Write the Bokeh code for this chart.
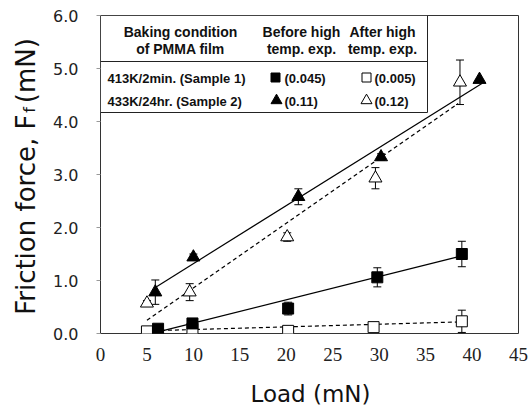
from bokeh.plotting import figure
from bokeh.models import (Label, Whisker, TeeHead, ColumnDataSource, FixedTicker,
                          PrintfTickFormatter, Range1d)
from bokeh.layouts import row, column
from bokeh.core.properties import value
from bokeh.embed import file_html
from bokeh.resources import INLINE
import math

# ---- data ----
s1_before_x = [6.2, 9.9, 20.2, 29.8, 38.9]
s1_before_y = [0.09, 0.19, 0.47, 1.06, 1.50]
s1_before_err = [0.03, 0.05, 0.12, 0.18, 0.24]

s1_after_x = [5.0, 9.9, 20.2, 29.4, 38.9]
s1_after_y = [0.04, 0.09, 0.05, 0.12, 0.23]
s1_after_err = [0.03, 0.08, 0.04, 0.05, 0.21]

s2_before_x = [5.9, 10.0, 21.3, 30.2, 40.8]
s2_before_y = [0.78, 1.44, 2.58, 3.33, 4.79]
s2_before_err = [0.23, 0.06, 0.15, 0.06, 0.0]

s2_after_x = [5.0, 9.6, 20.1, 29.6, 38.7]
s2_after_y = [0.57, 0.78, 1.82, 2.93, 4.74]
s2_after_err = [0.05, 0.16, 0.08, 0.20, 0.42]

# fitted lines (end points)
fit_s1_before_x = [6.2, 39.0]
fit_s1_before_y = [0.03, 1.47]
fit_s1_after_x = [5.0, 38.9]
fit_s1_after_y = [0.05, 0.22]
fit_s2_before_x = [5.9, 41.1]
fit_s2_before_y = [0.87, 4.72]
fit_s2_after_x = [5.0, 38.5]
fit_s2_after_y = [0.25, 4.34]

x_ticks = [0, 5, 10, 15, 20, 25, 30, 35, 40, 45]
y_ticks = [0, 1, 2, 3, 4, 5, 6]

legend_rows = ["413K/2min. (Sample 1)", "433K/24hr. (Sample 2)"]
legend_before = ["(0.045)", "(0.11)"]
legend_after = ["(0.005)", "(0.12)"]

# ---- layout constants ----
TOTAL_W, TOTAL_H = 528, 405
LAB_W = 40                      # narrow panel holding the rotated y title
XL_H = 39                       # strip below holding the x title
TOP_H = TOTAL_H - XL_H
FRAME_L, FRAME_T, FRAME_W, FRAME_H = 100, 15, 418, 318

# ---- y-title panel ----
ylab = figure(width=LAB_W, height=TOP_H, x_range=Range1d(0, LAB_W),
              y_range=Range1d(0, TOP_H), x_axis_type=None, y_axis_type=None,
              output_backend="svg", toolbar_location=None,
              min_border=0, min_border_left=0, min_border_right=0,
              min_border_top=0, min_border_bottom=0)
ylab.outline_line_color = None
ylab.grid.visible = False

BASE_X = 25              # baseline of rotated title (px from panel left)
F_END = TOP_H - 114      # where "Friction force, F" ends (px from panel bottom)
ylab.text(x=[BASE_X], y=[F_END], text=["Friction force, F"], angle=math.pi / 2,
          text_align="right", text_baseline="alphabetic",
          text_font=value("DejaVu Sans"), text_font_size="26px", text_color="#111111")
ylab.text(x=[BASE_X + 4], y=[F_END + 2], text=["f"], angle=math.pi / 2,
          text_align="left", text_baseline="alphabetic",
          text_font=value("DejaVu Sans"), text_font_size="16px", text_color="#111111")
ylab.text(x=[BASE_X], y=[F_END + 13], text=["(mN)"], angle=math.pi / 2,
          text_align="left", text_baseline="alphabetic",
          text_font=value("DejaVu Sans"), text_font_size="26px", text_color="#111111")

# ---- x-title strip ----
xlab = figure(width=TOTAL_W, height=XL_H, x_range=Range1d(0, TOTAL_W),
              y_range=Range1d(0, XL_H), x_axis_type=None, y_axis_type=None,
              output_backend="svg", toolbar_location=None,
              min_border=0, min_border_left=0, min_border_right=0,
              min_border_top=0, min_border_bottom=0)
xlab.outline_line_color = None
xlab.grid.visible = False
xlab.text(x=[310], y=[12], text=["Load (mN)"], text_align="center",
          text_baseline="alphabetic", text_font=value("DejaVu Sans"),
          text_font_size="23px", text_color="#111111")

# ---- main figure ----
p = figure(width=TOTAL_W - LAB_W, height=TOP_H, x_range=Range1d(0, 45),
           y_range=Range1d(0, 6), output_backend="svg", toolbar_location=None,
           min_border_left=FRAME_L - LAB_W,
           min_border_right=TOTAL_W - FRAME_L - FRAME_W, min_border_top=FRAME_T,
           min_border_bottom=TOP_H - FRAME_T - FRAME_H)
p.grid.visible = False
p.outline_line_color = "#333333"
p.outline_line_width = 1

p.xaxis.ticker = FixedTicker(ticks=x_ticks)
p.yaxis.ticker = FixedTicker(ticks=y_ticks)
p.yaxis.formatter = PrintfTickFormatter(format="%.1f")
for ax in (p.xaxis[0], p.yaxis[0]):
    ax.axis_line_color = None
    ax.minor_tick_line_color = None
    ax.major_label_text_color = "#222222"
p.xaxis.major_label_text_font = "Liberation Sans Narrow"
p.xaxis.major_label_text_font_size = "19px"
p.yaxis.major_label_text_font = "DejaVu Sans"
p.yaxis.major_label_text_font_size = "16px"
p.xaxis.major_tick_line_color = None
p.xaxis.major_label_standoff = 8
p.yaxis.major_tick_line_color = "#999999"
p.yaxis.major_tick_in = 0
p.yaxis.major_tick_out = 4
p.yaxis.major_label_standoff = 18


# px helpers for the legend-table layout (pixel coords of the picture)
def dx(px):
    return (px - FRAME_L) * 45.0 / FRAME_W


def dy(py):
    return (FRAME_T + FRAME_H - py) * 6.0 / FRAME_H


# ---- fit lines ----
p.line(fit_s1_before_x, fit_s1_before_y, line_color="black", line_width=1.2)
p.line(fit_s1_after_x, fit_s1_after_y, line_color="black", line_width=1.2, line_dash="4 3")
p.line(fit_s2_before_x, fit_s2_before_y, line_color="black", line_width=1.2)
p.line(fit_s2_after_x, fit_s2_after_y, line_color="black", line_width=1.2, line_dash="4 3")


# ---- error bars + markers ----
def series(xs, ys, errs, marker, filled, size):
    src = ColumnDataSource(dict(x=xs, y=ys,
                                lo=[a - e for a, e in zip(ys, errs)],
                                hi=[a + e for a, e in zip(ys, errs)]))
    w = Whisker(source=src, base="x", lower="lo", upper="hi", dimension="height",
                line_color="black", line_width=1,
                upper_head=TeeHead(size=8, line_color="black", line_width=1),
                lower_head=TeeHead(size=8, line_color="black", line_width=1))
    p.add_layout(w)
    p.scatter("x", "y", source=src, marker=marker, size=size,
              fill_color="black" if filled else "white", line_color="black", line_width=1)


series(s1_after_x, s1_after_y, s1_after_err, "square", False, 11)
series(s1_before_x, s1_before_y, s1_before_err, "square", True, 11)
series(s2_after_x, s2_after_y, s2_after_err, "triangle", False, 13)
series(s2_before_x, s2_before_y, s2_before_err, "triangle", True, 13)

# ---- legend table ----
p.quad(left=[dx(100)], right=[dx(427)], top=[dy(15)], bottom=[dy(112)],
       fill_color="white", line_color="#222222", line_width=1)
p.line([dx(100), dx(427)], [dy(61), dy(61)], line_color="#222222", line_width=1)


def lab(text, px, py, align="center", size="14px"):
    p.add_layout(Label(x=dx(px), y=dy(py), text=text, text_align=align,
                       text_baseline="middle", text_font="Liberation Sans",
                       text_font_size=size, text_font_style="bold",
                       text_color="#111111"))


lab("Baking condition", 180, 31)
lab("of PMMA film", 180, 48)
lab("Before high", 301, 31)
lab("temp. exp.", 301, 48)
lab("After high", 382, 31)
lab("temp. exp.", 382, 48)
lab(legend_rows[0], 107, 78, align="left", size="13px")
lab(legend_rows[1], 107, 101, align="left", size="13px")
lab(legend_before[0], 284, 78, align="left", size="13px")
lab(legend_before[1], 284, 101, align="left", size="13px")
lab(legend_after[0], 374, 78, align="left", size="13px")
lab(legend_after[1], 374, 101, align="left", size="13px")

p.scatter([dx(275)], [dy(77)], marker="square", size=9, fill_color="black", line_color="black")
p.scatter([dx(276)], [dy(100)], marker="triangle", size=11, fill_color="black", line_color="black")
p.scatter([dx(366)], [dy(77)], marker="square", size=9, fill_color="white", line_color="black")
p.scatter([dx(366)], [dy(100)], marker="triangle", size=11, fill_color="white", line_color="black")

layout = column(row(ylab, p, spacing=0), xlab, spacing=0)
open("out.html", "w").write(file_html(layout, INLINE))
